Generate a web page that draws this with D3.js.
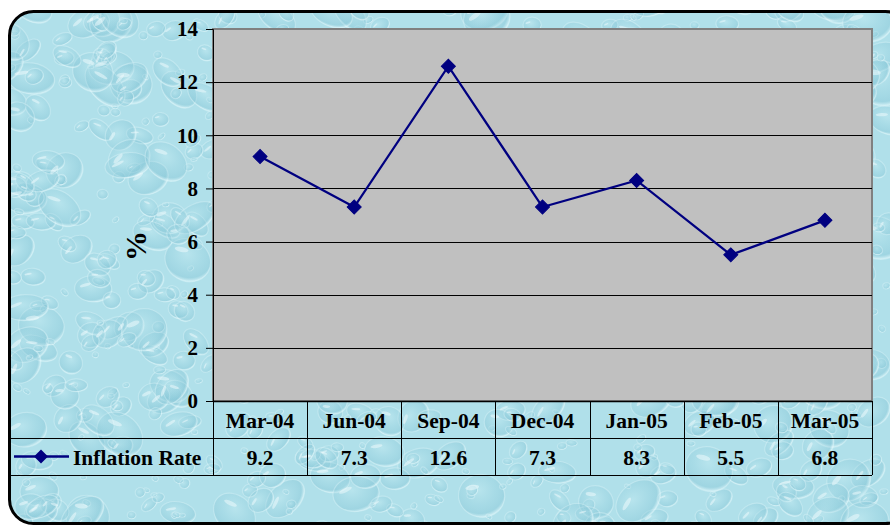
<!DOCTYPE html>
<html>
<head>
<meta charset="utf-8">
<script src="https://cdnjs.cloudflare.com/ajax/libs/d3/7.8.5/d3.min.js"></script>
<style>
  html, body { margin: 0; padding: 0; background: #ffffff; }
  svg { display: block; }
  text { font-family: "Liberation Serif", "Times New Roman", serif; font-weight: 700; fill: #000; }
</style>
</head>
<body>
<svg id="chart" width="890" height="527"></svg>
<script>
// Inflation rate by period
const categories = ["Mar-04", "Jun-04", "Sep-04", "Dec-04", "Jan-05", "Feb-05", "Mar-05"];
const inflationRate = [9.2, 7.3, 12.6, 7.3, 8.3, 5.5, 6.8];
const yTicks = [0, 2, 4, 6, 8, 10, 12, 14];
const seriesName = "Inflation Rate";
const axisTitle = "%";

const svg = d3.select("#chart");
const W = 890, H = 527;
const FONT = "'Liberation Serif', 'Times New Roman', serif";

// Plot area
const plot = { left: 213, right: 872, top: 29, bottom: 401 };
const tableRows = { header: [401, 438], values: [438, 475] };
const legendLeft = 10;

// Water-drop texture for the chart background
const defs = svg.append("defs");
const drop = defs.append("radialGradient").attr("id", "drop")
  .attr("cx", "42%").attr("cy", "38%").attr("r", "62%");
drop.append("stop").attr("offset", "0%").attr("stop-color", "#c9eef4").attr("stop-opacity", 0.3);
drop.append("stop").attr("offset", "55%").attr("stop-color", "#90cddc").attr("stop-opacity", 0.28);
drop.append("stop").attr("offset", "88%").attr("stop-color", "#82c3d4").attr("stop-opacity", 0.38);
drop.append("stop").attr("offset", "100%").attr("stop-color", "#e4f8fb").attr("stop-opacity", 0.5);

const clip = defs.append("clipPath").attr("id", "frameClip");
clip.append("rect").attr("x", 9).attr("y", 11).attr("width", 902).attr("height", 513).attr("rx", 24);

const bg = svg.append("g").attr("clip-path", "url(#frameClip)");
bg.append("rect").attr("x", 0).attr("y", 0).attr("width", W).attr("height", H).attr("fill", "#b0e0ea");

// deterministic scatter of droplets
let seed = 11;
function rnd() { seed = (seed * 16807) % 2147483647; return (seed - 1) / 2147483646; }
const drops = [];
for (let i = 0; i < 900; i++) {
  const rx = 3 + Math.pow(rnd(), 2) * 22;
  drops.push({ x: rnd() * W, y: rnd() * H, rx: rx, ry: rx * (0.55 + rnd() * 0.4), a: -50 + rnd() * 100 });
}
bg.selectAll("ellipse.drop").data(drops).join("ellipse")
  .attr("class", "drop")
  .attr("cx", d => d.x).attr("cy", d => d.y)
  .attr("rx", d => d.rx).attr("ry", d => d.ry)
  .attr("transform", d => `rotate(${d.a},${d.x},${d.y})`)
  .attr("fill", "url(#drop)")
  .attr("stroke", "#e6f9fc").attr("stroke-opacity", 0.35).attr("stroke-width", 1.2);
// small highlights on the drops
bg.selectAll("ellipse.glint").data(drops.filter(d => d.rx > 7)).join("ellipse")
  .attr("class", "glint")
  .attr("cx", d => d.x - d.rx * 0.35).attr("cy", d => d.y - d.ry * 0.45)
  .attr("rx", d => d.rx * 0.3).attr("ry", d => d.ry * 0.12)
  .attr("transform", d => `rotate(${d.a - 20},${d.x},${d.y})`)
  .attr("fill", "#f2fcfd").attr("opacity", 0.5);

// Frame border
svg.append("rect").attr("x", 9.5).attr("y", 11.5).attr("width", 900).attr("height", 512)
  .attr("rx", 24).attr("fill", "none").attr("stroke", "#000").attr("stroke-width", 3);

// Scales
const x = d3.scaleBand().domain(categories).range([plot.left, plot.right]).paddingInner(0).paddingOuter(0);
const y = d3.scaleLinear().domain([0, 14]).range([plot.bottom, plot.top]);

// Plot background
svg.append("rect").attr("x", plot.left).attr("y", plot.top)
  .attr("width", plot.right - plot.left).attr("height", plot.bottom - plot.top)
  .attr("fill", "#c0c0c0").attr("stroke", "#808080").attr("stroke-width", 2);

// Gridlines
svg.append("g").selectAll("line").data(yTicks.filter(t => t > 0 && t < 14)).join("line")
  .attr("x1", plot.left).attr("x2", plot.right)
  .attr("y1", d => Math.round(y(d)) + 0.5).attr("y2", d => Math.round(y(d)) + 0.5)
  .attr("stroke", "#000").attr("stroke-width", 1);

// Y axis
const yAxis = d3.axisLeft(y).tickValues(yTicks).tickSize(7).tickPadding(8).tickFormat(d3.format("d"));
const yg = svg.append("g").attr("transform", `translate(${plot.left},0)`).call(yAxis)
  .attr("font-family", FONT).attr("font-size", 21).attr("font-weight", 700);
yg.select(".domain").attr("stroke", "#000").attr("stroke-width", 1);
yg.selectAll(".tick line").attr("stroke", "#000");
yg.selectAll(".tick text").attr("fill", "#000").style("font-weight", "700");

svg.append("text").attr("transform", "translate(135,246) rotate(-90)")
  .attr("text-anchor", "middle").attr("dominant-baseline", "central")
  .style("font-size", "30px").style("font-weight", "700").text(axisTitle);

// Series line and markers
const cx = c => x(c) + x.bandwidth() / 2;
const line = d3.line().x((d, i) => cx(categories[i])).y(d => y(d));
svg.append("path").datum(inflationRate).attr("d", line)
  .attr("fill", "none").attr("stroke", "#000080").attr("stroke-width", 2.3);

const diamondPath = d3.symbol().type(d3.symbolSquare).size(98)();
svg.append("g").selectAll("path").data(inflationRate).join("path")
  .attr("transform", (d, i) => `translate(${cx(categories[i])},${y(d)}) rotate(45)`)
  .attr("d", diamondPath)
  .attr("fill", "#000080").attr("stroke", "#000080").attr("stroke-width", 1);

// Data table
const tbl = svg.append("g");
const hLines = [tableRows.header[0], tableRows.header[1], tableRows.values[1]];
tbl.append("line").attr("x1", plot.left).attr("x2", plot.right)
  .attr("y1", hLines[0] + 0.5).attr("y2", hLines[0] + 0.5).attr("stroke", "#000").attr("stroke-width", 1.5);
tbl.selectAll("line.h").data(hLines.slice(1)).join("line").attr("class", "h")
  .attr("x1", legendLeft).attr("x2", plot.right)
  .attr("y1", d => d + 0.5).attr("y2", d => d + 0.5).attr("stroke", "#000").attr("stroke-width", 1);
const vEdges = categories.map(c => x(c)).concat([plot.right]);
tbl.selectAll("line.v").data(vEdges).join("line").attr("class", "v")
  .attr("x1", d => Math.round(d) + 0.5).attr("x2", d => Math.round(d) + 0.5)
  .attr("y1", tableRows.header[0]).attr("y2", tableRows.values[1])
  .attr("stroke", "#000").attr("stroke-width", 1);

tbl.selectAll("text.cat").data(categories).join("text").attr("class", "cat")
  .attr("x", d => cx(d)).attr("y", (tableRows.header[0] + tableRows.header[1]) / 2 + 1)
  .attr("text-anchor", "middle").attr("dominant-baseline", "central")
  .style("font-size", "21.5px").style("font-weight", "700").text(d => d);

tbl.selectAll("text.val").data(inflationRate).join("text").attr("class", "val")
  .attr("x", (d, i) => cx(categories[i])).attr("y", (tableRows.values[0] + tableRows.values[1]) / 2 + 1)
  .attr("text-anchor", "middle").attr("dominant-baseline", "central")
  .style("font-size", "21.5px").style("font-weight", "700").text(d => d3.format(".1f")(d));

// Legend key inside the table
const ly = (tableRows.values[0] + tableRows.values[1]) / 2;
tbl.append("line").attr("x1", 14).attr("x2", 69).attr("y1", ly).attr("y2", ly)
  .attr("stroke", "#000080").attr("stroke-width", 2.3);
tbl.append("path").attr("transform", `translate(41,${ly}) rotate(45)`)
  .attr("d", diamondPath).attr("fill", "#000080");
tbl.append("text").attr("x", 73).attr("y", ly + 1).attr("dominant-baseline", "central")
  .style("font-size", "21.5px").style("font-weight", "700").text(seriesName);
</script>
</body>
</html>
